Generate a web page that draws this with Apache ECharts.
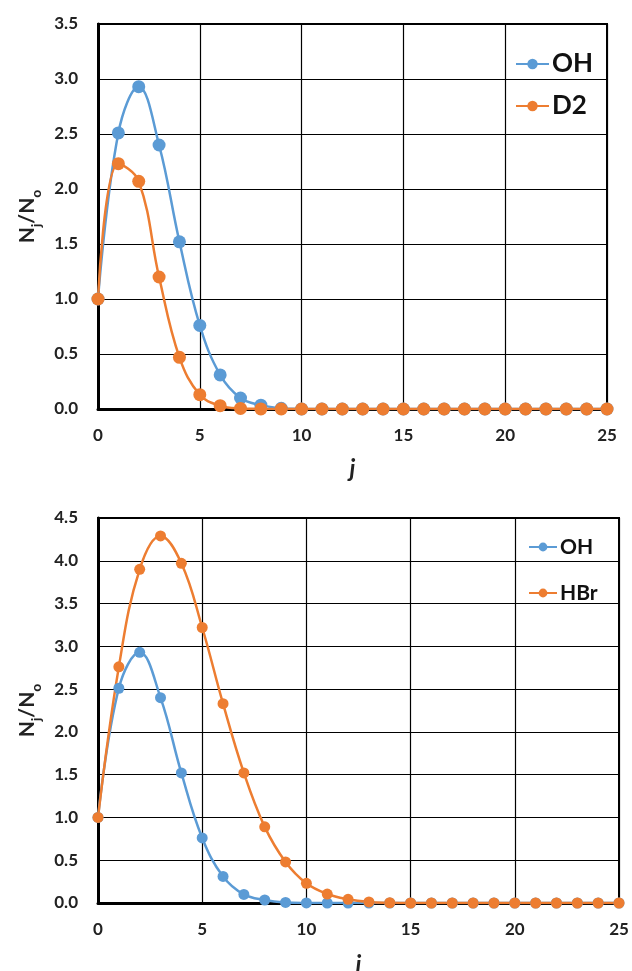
<!DOCTYPE html>
<html><head><meta charset="utf-8">
<script src="https://cdn.jsdelivr.net/npm/echarts@6/dist/echarts.min.js"></script>
<style>html,body{margin:0;padding:0;background:#fff}#c{width:632px;height:971px}</style>
</head><body><div id="c"></div>
<script>
const jValues = [0,1,2,3,4,5,6,7,8,9,10,11,12,13,14,15,16,17,18,19,20,21,22,23,24,25];
const ohValues = [1.0,2.51,2.93,2.40,1.52,0.76,0.31,0.10,0.035,0.007,0.001,0,0,0,0,0,0,0,0,0,0,0,0,0,0,0];
const d2Values = [1.0,2.23,2.07,1.20,0.47,0.13,0.03,0.005,0.001,0,0,0,0,0,0,0,0,0,0,0,0,0,0,0,0,0];
const hbrValues = [1.0,2.76,3.90,4.29,3.97,3.22,2.33,1.52,0.89,0.48,0.23,0.105,0.043,0.012,0.003,0,0,0,0,0,0,0,0,0,0,0];
const xTicks = [0,5,10,15,20,25];

const BLUE = '#5B9BD5', ORANGE = '#ED7D31';
const FONT = 'Lato';
const pairs = arr => jValues.map((j,i)=>[j,arr[i]]);

function xAxis(gi,gap){
  return {gridIndex:gi,type:'value',min:0,max:25,interval:5,
    axisLine:{show:true,lineStyle:{color:'#000',width:3}},
    axisTick:{show:false},
    splitLine:{show:true,lineStyle:{color:'#000',width:1.2}},
    axisLabel:{color:'#222',fontFamily:FONT,fontWeight:'bold',fontSize:17,margin:18},
    name:'j',nameLocation:'middle',nameGap:gap,
    nameTextStyle:{color:'#222',fontFamily:FONT,fontWeight:'bold',fontStyle:'italic',fontSize:24}};
}
function yAxis(gi,max){
  return {gridIndex:gi,type:'value',min:0,max:max,interval:0.5,
    axisLine:{show:true,onZero:false,lineStyle:{color:'#000',width:3}},
    axisTick:{show:false},
    splitLine:{show:true,lineStyle:{color:'#000',width:1.2}},
    axisLabel:{color:'#222',fontFamily:FONT,fontWeight:'bold',fontSize:17,margin:20,formatter:v=>v.toFixed(1)},
    name:'{n|N}{s|j}{n|/N}{s|o}',nameLocation:'middle',nameGap:60,nameRotate:90,
    nameTextStyle:{rich:{
      n:{color:'#222',fontFamily:FONT,fontWeight:'bold',fontSize:21,verticalAlign:'bottom'},
      s:{color:'#222',fontFamily:FONT,fontWeight:'bold',fontSize:14,verticalAlign:'bottom',padding:[0,0,-6,0]}}}};
}
function series(name,arr,color,gi,size){
  return {name,type:'line',xAxisIndex:gi,yAxisIndex:gi,data:pairs(arr),smooth:0.4,
    symbol:'circle',symbolSize:size,showSymbol:true,
    lineStyle:{color,width:2.5},itemStyle:{color},emphasis:{disabled:true}};
}

const chart = echarts.init(document.getElementById('c'),null,{renderer:'canvas'});
chart.setOption({
  animation:false,
  backgroundColor:'#fff',
  grid:[
    {left:98,right:25,top:24,height:385,show:true,borderColor:'#000',borderWidth:2,backgroundColor:'transparent',outerBoundsMode:'none',containLabel:false},
    {left:98,right:13,top:518,height:385,show:true,borderColor:'#000',borderWidth:2,backgroundColor:'transparent',outerBoundsMode:'none',containLabel:false}
  ],
  xAxis:[xAxis(0,48),xAxis(1,50)],
  yAxis:[yAxis(0,3.5),yAxis(1,4.5)],
  legend:[
    {data:['OH','D2'],orient:'vertical',left:510,top:46,itemWidth:33,itemHeight:13,itemGap:16,
      textStyle:{color:'#111',fontFamily:FONT,fontWeight:'bold',fontSize:26,lineHeight:26,padding:[0,0,0,-2]}},
    {data:['OH ','HBr'],orient:'vertical',left:523,top:531,itemWidth:28,itemHeight:11,itemGap:24,
      textStyle:{color:'#111',fontFamily:FONT,fontWeight:'bold',fontSize:21,lineHeight:22,padding:[0,0,0,-2]}}
  ],
  series:[
    series('OH',ohValues,BLUE,0,13),
    series('D2',d2Values,ORANGE,0,13),
    series('OH ',ohValues,BLUE,1,11),
    series('HBr',hbrValues,ORANGE,1,11)
  ]
});
</script></body></html>
